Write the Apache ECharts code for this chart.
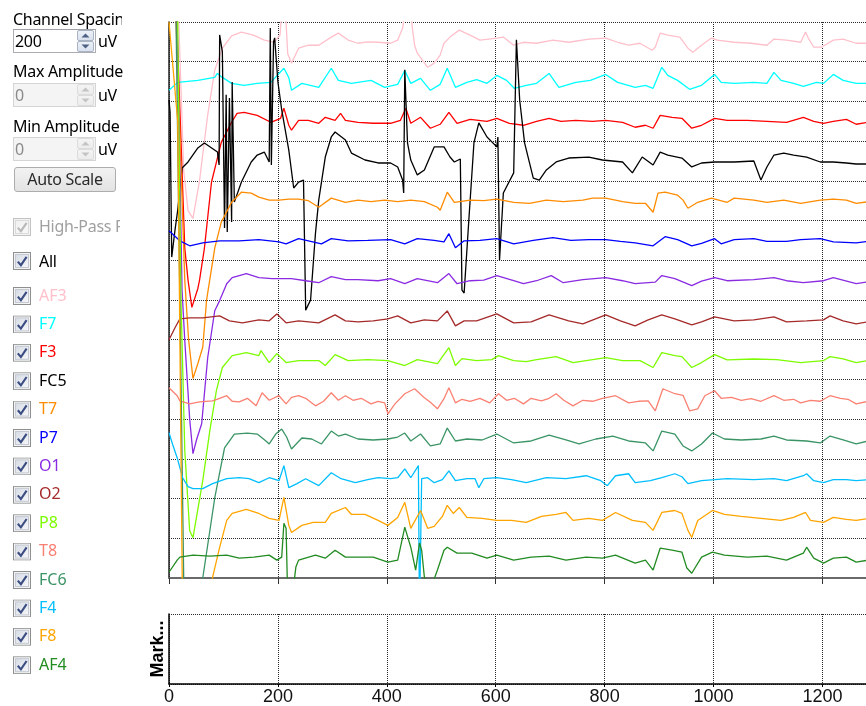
<!DOCTYPE html>
<html>
<head>
<meta charset="utf-8">
<script src="https://cdn.jsdelivr.net/npm/echarts@6/dist/echarts.min.js"></script>
<style>
  html, body { margin:0; padding:0; width:866px; height:706px; overflow:hidden; background:#fff; }
  #chart { position:absolute; left:0; top:0; width:866px; height:706px; }
  .ui { position:absolute; font-family:"Noto Sans", "Open Sans", sans-serif; font-size:16px; letter-spacing:-0.3px; line-height:20px; color:#000; white-space:nowrap; z-index:2; }
  .clip { overflow:hidden; }
  .box { position:absolute; box-sizing:border-box; border:1px solid #abadb3; border-top-color:#9fa2aa; background:#fff; z-index:2; }
  .box.dis { border-color:#d5d5d5; background:#f4f4f4; }
  .btn { position:absolute; box-sizing:border-box; border:1px solid #adadad; border-radius:3px; background:linear-gradient(#f2f2f2,#e3e3e3); z-index:2; }
</style>
</head>
<body>
<div id="chart"></div>
<div id="panel"></div>
<script>
// ---------------- data ----------------
const channels = ['AF3','F7','F3','FC5','T7','P7','O1','O2','P8','T8','FC6','F4','F8','AF4'];
const channelColors = ['#FFC0CB','#00FFFF','#FF0000','#000000','#FF8C00','#0000FF','#8A2BE2','#A52A2A','#7CFC00','#FA8072','#3A9466','#00BFFF','#FFA500','#228B22'];
const channelSpacing = 200;          // uV
const maxAmplitude = 0;              // uV
const minAmplitude = 0;              // uV
const xTicks = [0, 200, 400, 600, 800, 1000, 1200];
const xMax = 1280;

// samples: [time index, uV relative to the channel baseline]
const AF3 = [[0,2000],[16,300],[18,99],[27,-650],[35,-850],[44,-889],[56,-700],[71,-369],[84,-143],[98,-32],[115,30],[133,49],[155,34],[175,9],[193,-2],[204,34],[209,250],[214,150],[218,-60],[225,-107],[238,-32],[256,-17],[275,-17],[298,24],[311,44],[329,9],[347,-7],[365,0],[384,-2],[407,-7],[420,9],[429,69],[436,185],[444,134],[451,-17],[456,-57],[475,-128],[487,-107],[498,-67],[505,-7],[516,24],[533,59],[553,34],[571,9],[602,19],[614,24],[633,-17],[651,-2],[675,-7],[705,9],[734,-2],[771,14],[802,19],[824,-2],[844,-17],[865,-7],[887,-42],[893,-27],[902,44],[916,34],[938,24],[953,-32],[962,-52],[978,-17],[996,19],[1007,9],[1038,-2],[1069,-7],[1098,-17],[1111,14],[1134,9],[1160,-2],[1169,49],[1174,19],[1184,-27],[1198,-27],[1220,9],[1238,14],[1262,-7],[1284,-7]];
const F7 = [[0,-44],[16,-4],[53,6],[84,21],[89,41],[98,21],[115,-9],[138,-19],[162,-9],[187,-4],[202,41],[211,67],[220,20],[225,-44],[244,-9],[275,-29],[298,67],[311,6],[335,-9],[371,6],[396,-29],[420,-14],[433,56],[444,-9],[462,16],[480,-44],[498,-14],[511,67],[526,-29],[547,-4],[565,10],[584,-9],[602,31],[620,6],[634,-34],[656,-19],[675,-9],[698,41],[716,-29],[747,-4],[774,6],[802,36],[824,-4],[856,-29],[875,-19],[889,-34],[905,72],[916,31],[934,6],[956,-39],[978,-19],[1002,36],[1014,-4],[1038,-9],[1074,-4],[1098,-9],[1111,46],[1124,6],[1147,-9],[1165,-24],[1189,-4],[1202,-9],[1220,36],[1238,6],[1262,-9],[1284,-9]];
const F3 = [[0,1500],[13,600],[29,-640],[35,-801],[42,-937],[53,-842],[56,-801],[65,-640],[78,-307],[96,-106],[115,-5],[125,40],[138,45],[162,30],[187,-5],[205,15],[211,66],[220,-20],[225,-45],[238,5],[256,5],[275,-10],[287,20],[305,5],[315,40],[324,5],[347,-5],[375,-10],[407,-10],[425,5],[435,66],[444,-10],[462,20],[480,-35],[498,-15],[514,45],[529,-10],[553,10],[584,0],[602,15],[625,-10],[651,-20],[675,0],[698,15],[720,0],[747,5],[778,0],[802,5],[833,-5],[856,-30],[875,-20],[889,-35],[902,30],[924,20],[942,15],[960,-35],[978,-20],[1002,15],[1025,5],[1062,5],[1098,0],[1134,-5],[1165,20],[1184,0],[1202,-10],[1220,0],[1244,10],[1262,-15],[1284,-5]];
const FC5 = [[0,307],[2,247],[5,-484],[11,-348],[16,-247],[24,-35],[35,-5],[53,66],[65,91],[89,45],[92,-20],[93,635],[98,550],[102,-337],[105,333],[107,-357],[111,317],[115,-307],[116,398],[120,-207],[133,-106],[151,-5],[162,30],[175,45],[184,-5],[186,670],[188,-20],[192,600],[194,620],[200,398],[207,257],[220,55],[229,-136],[238,-106],[247,-96],[251,-751],[260,-700],[269,-363],[275,-197],[287,20],[298,121],[305,146],[324,106],[335,40],[360,5],[384,-10],[407,-10],[420,-30],[429,-96],[431,-161],[433,459],[438,91],[444,5],[456,-70],[469,-45],[487,71],[505,71],[516,20],[524,-5],[535,10],[538,-650],[542,-665],[551,-282],[560,91],[569,192],[584,121],[602,71],[604,121],[607,-499],[614,-161],[633,-60],[638,610],[644,307],[653,91],[669,-86],[680,-96],[693,-45],[711,-5],[734,15],[771,20],[796,5],[833,-5],[851,-60],[869,20],[889,-20],[902,45],[916,30],[942,15],[960,-30],[978,-10],[1002,-5],[1038,-5],[1074,0],[1087,-96],[1098,-30],[1111,30],[1129,40],[1147,30],[1171,20],[1196,-5],[1220,-5],[1244,-10],[1262,-15],[1284,-15]];
const T7 = [[0,2000],[13,900],[29,-401],[36,-700],[44,-895],[53,-820],[62,-738],[69,-501],[84,-239],[96,-108],[115,-8],[133,43],[151,38],[165,18],[184,3],[202,3],[220,8],[238,8],[256,0],[275,-33],[298,13],[324,-8],[347,3],[371,-5],[396,3],[420,-5],[444,3],[469,-5],[493,-33],[498,-48],[511,43],[524,-8],[553,3],[578,0],[602,8],[633,-8],[662,-13],[693,3],[724,-5],[760,3],[778,13],[802,13],[833,-5],[856,-13],[875,-13],[889,-58],[898,38],[911,43],[934,28],[944,3],[953,-38],[971,-8],[996,13],[1025,-8],[1038,13],[1074,3],[1098,-8],[1129,3],[1160,-13],[1196,3],[1220,8],[1244,3],[1262,-13],[1284,-5]];
const P7 = [[0,49],[20,-2],[38,-27],[62,-12],[93,-2],[129,-2],[165,4],[202,-7],[215,-17],[238,9],[280,-17],[298,9],[329,-2],[365,0],[407,4],[433,-17],[456,9],[487,0],[505,-7],[514,34],[526,-37],[542,-2],[571,0],[602,9],[633,-17],[669,0],[705,14],[738,0],[771,4],[802,4],[829,-5],[856,-12],[889,-27],[911,19],[934,4],[960,-27],[978,-15],[1002,9],[1014,-17],[1038,4],[1074,9],[1098,-5],[1134,-5],[1160,4],[1196,9],[1220,-7],[1262,-12],[1284,-5]];
const O1 = [[0,2000],[15,1298],[24,-53],[29,-305],[38,-700],[44,-874],[51,-800],[60,-723],[71,-392],[84,-154],[93,-103],[106,-18],[116,13],[142,33],[165,13],[189,8],[225,8],[251,-3],[275,-13],[298,18],[324,3],[347,3],[384,-3],[407,8],[433,-18],[456,8],[493,-13],[514,33],[529,-18],[553,-3],[578,0],[602,23],[633,-3],[651,-18],[675,-3],[702,23],[724,-13],[760,3],[802,13],[833,-3],[856,-18],[893,-10],[905,23],[929,8],[960,-28],[978,-5],[1002,13],[1025,-3],[1074,3],[1111,13],[1134,-3],[1165,-13],[1202,-3],[1220,13],[1262,-18],[1284,-8]];
const O2 = [[0,-100],[11,-40],[20,5],[38,10],[62,10],[93,20],[111,-5],[135,-15],[165,0],[184,-5],[198,30],[215,-15],[238,-5],[275,-15],[305,25],[324,-5],[347,-10],[375,-5],[402,5],[420,20],[444,-15],[469,0],[493,-5],[511,45],[526,-30],[542,-5],[565,-5],[602,30],[633,-15],[665,-10],[698,25],[734,-5],[760,-20],[802,25],[829,-5],[856,-30],[880,0],[905,25],[929,5],[960,-25],[978,-10],[1002,15],[1038,-5],[1074,0],[1111,15],[1134,-10],[1171,-5],[1202,0],[1214,20],[1238,-5],[1262,-20],[1284,-10]];
const P8 = [[0,2000],[16,1698],[22,297],[29,-459],[38,-862],[44,-897],[51,-786],[62,-610],[75,-358],[87,-156],[98,-40],[116,20],[142,35],[165,20],[169,45],[184,-15],[198,30],[215,-15],[238,-5],[275,-5],[287,-30],[305,25],[329,-5],[365,0],[402,-5],[433,-30],[456,0],[493,-20],[514,60],[526,-30],[538,5],[565,-5],[593,0],[605,20],[633,-5],[656,-10],[675,0],[711,15],[742,-15],[778,0],[802,10],[833,-5],[865,-5],[889,-40],[905,35],[929,20],[942,15],[960,-40],[978,-15],[1002,25],[1025,-2],[1074,3],[1116,0],[1160,-15],[1202,-5],[1214,15],[1238,3],[1262,-15],[1284,-5]];
const T8 = [[0,58],[15,18],[20,-8],[38,-23],[56,-13],[80,-8],[93,5],[106,18],[116,-10],[129,-13],[144,5],[160,-33],[171,33],[184,-5],[202,18],[215,-23],[225,10],[238,18],[251,5],[269,-33],[284,-10],[298,33],[311,-5],[324,18],[338,-5],[353,5],[371,-23],[384,-10],[396,-18],[402,-73],[415,-23],[433,28],[451,53],[469,8],[480,-15],[493,-48],[505,3],[514,58],[526,-18],[538,0],[553,-10],[571,5],[589,-18],[605,28],[620,-5],[634,5],[651,-23],[665,5],[684,-8],[698,5],[711,28],[725,-5],[742,-33],[760,-5],[778,-10],[796,5],[820,18],[844,-18],[862,-10],[880,-8],[893,-58],[907,53],[929,28],[944,20],[956,-58],[971,-48],[984,18],[1002,43],[1014,5],[1033,10],[1051,-5],[1069,3],[1087,-10],[1111,18],[1129,-5],[1147,0],[1160,-18],[1178,-5],[1196,-10],[1214,18],[1233,5],[1247,0],[1262,-23],[1284,-10]];
const FC6 = [[0,2500],[13,2097],[27,-700],[38,-1000],[49,-950],[62,-700],[84,-297],[102,-45],[120,25],[144,30],[162,25],[178,-10],[184,-25],[196,25],[207,50],[216,10],[225,-50],[244,5],[262,0],[280,-25],[298,40],[311,15],[324,25],[347,0],[375,-5],[402,0],[420,10],[433,30],[444,-10],[462,25],[480,-35],[498,-25],[511,55],[526,-10],[547,0],[575,-5],[602,25],[633,-20],[665,-10],[698,20],[729,-5],[753,-25],[784,0],[815,15],[844,-10],[875,-20],[889,-60],[905,40],[929,25],[944,-35],[960,-60],[978,-25],[998,30],[1020,0],[1051,-5],[1087,0],[1111,15],[1134,-5],[1171,-10],[1196,-20],[1214,15],[1238,-5],[1262,-25],[1284,-10]];
const F4 = [[0,232],[7,170],[15,106],[25,5],[35,-40],[44,-50],[62,-50],[80,-25],[106,0],[129,5],[147,0],[165,-20],[184,5],[202,-10],[211,66],[220,-45],[235,-25],[251,0],[275,-35],[298,30],[316,0],[342,-20],[365,-5],[384,5],[407,0],[420,5],[433,50],[444,5],[458,66],[460,-700],[462,-700],[464,0],[475,5],[487,-20],[502,-5],[514,40],[526,-10],[547,0],[562,0],[569,-45],[578,0],[602,5],[629,-5],[656,-20],[693,5],[729,0],[766,15],[793,-10],[805,-35],[820,15],[844,25],[856,-20],[884,-10],[905,5],[929,25],[942,10],[953,-25],[978,-10],[1002,-5],[1025,0],[1074,-5],[1111,0],[1134,-10],[1165,15],[1171,25],[1184,-10],[1202,-20],[1220,-5],[1244,-5],[1262,-10],[1284,-5]];
const F8 = [[0,2500],[16,2000],[25,-500],[47,-1000],[65,-700],[80,-297],[93,-146],[106,-10],[116,25],[142,45],[165,25],[184,0],[202,-10],[211,106],[220,-35],[225,-71],[244,-35],[265,-20],[287,-20],[298,25],[324,55],[335,20],[360,20],[384,-10],[402,-35],[420,5],[433,81],[444,-50],[462,40],[475,-50],[487,-40],[502,10],[511,66],[522,25],[533,55],[547,5],[575,0],[602,-10],[629,-10],[656,-20],[684,10],[711,20],[729,30],[742,-10],[771,0],[796,-10],[820,30],[851,-10],[875,-20],[889,-60],[905,30],[929,40],[942,25],[953,-60],[960,-96],[971,-10],[998,40],[1020,20],[1051,10],[1087,0],[1124,-10],[1147,5],[1169,30],[1178,-10],[1202,-20],[1220,5],[1244,-5],[1262,-10],[1284,0]];
const AF4 = [[0,-71],[15,-10],[20,5],[44,15],[75,10],[106,15],[129,0],[156,5],[184,15],[198,-10],[207,5],[211,176],[215,150],[218,-200],[224,-250],[233,-45],[238,-10],[269,15],[287,0],[305,40],[324,5],[347,5],[375,5],[402,-20],[420,-10],[433,156],[444,55],[453,-60],[460,76],[464,40],[469,-96],[475,-150],[485,-120],[493,-60],[505,40],[511,55],[529,25],[556,25],[584,0],[602,15],[633,-10],[665,5],[698,10],[729,-10],[766,5],[796,0],[820,15],[856,-25],[875,-10],[889,-60],[902,50],[924,40],[942,30],[951,-50],[960,-76],[978,5],[998,30],[1020,15],[1062,5],[1098,10],[1134,-10],[1165,25],[1171,55],[1184,0],[1202,-25],[1220,0],[1244,5],[1262,-20],[1284,-10]];
const channelData = [AF3, F7, F3, FC5, T7, P7, O1, O2, P8, T8, FC6, F4, F8, AF4];

// ---------------- UI pieces ----------------
function checkboxSVG(disabled) {
  const border = disabled ? '#c2c2c2' : '#8e8f8f';
  const g1 = disabled ? '#f1f1f1' : '#d6dbe4';
  const g2 = disabled ? '#f7f7f7' : '#f6f7f9';
  const mark = disabled ? '#b9b9b9' : '#3b4d82';
  return '<svg xmlns="http://www.w3.org/2000/svg" width="18" height="18" viewBox="0 0 18 18">' +
    '<defs><linearGradient id="g" x1="0" y1="0" x2="1" y2="1"><stop offset="0" stop-color="' + g1 + '"/><stop offset="1" stop-color="' + g2 + '"/></linearGradient></defs>' +
    '<rect x="0.5" y="0.5" width="17" height="17" fill="#f3f3f3" stroke="' + border + '"/>' +
    '<rect x="2.5" y="2.5" width="13" height="13" fill="url(#g)" stroke="' + (disabled ? '#dadada' : '#c3c8d2') + '"/>' +
    '<path d="M4.8 9.6 L7.9 13.2 L13.6 4.8" fill="none" stroke="' + mark + '" stroke-width="2.1"/></svg>';
}
function spinnerSVG(disabled) {
  const arrow = disabled ? '#c4c4c4' : '#4d6185';
  const st = disabled ? '#dcdcdc' : '#a9b3c4';
  const f1 = disabled ? '#f4f4f4' : '#eef2f8';
  const f2 = disabled ? '#ececec' : '#d9e1ee';
  return '<svg xmlns="http://www.w3.org/2000/svg" width="18" height="22" viewBox="0 0 18 22">' +
    '<defs><linearGradient id="s" x1="0" y1="0" x2="0" y2="1"><stop offset="0" stop-color="' + f1 + '"/><stop offset="1" stop-color="' + f2 + '"/></linearGradient></defs>' +
    '<rect x="0.5" y="0.5" width="16" height="10" rx="1.5" fill="url(#s)" stroke="' + st + '"/>' +
    '<rect x="0.5" y="11.5" width="16" height="10" rx="1.5" fill="url(#s)" stroke="' + st + '"/>' +
    '<path d="M4.5 7.5 L8.5 3.5 L12.5 7.5 Z" fill="' + arrow + '"/>' +
    '<path d="M4.5 14.5 L8.5 18.5 L12.5 14.5 Z" fill="' + arrow + '"/></svg>';
}
const toURI = s => 'data:image/svg+xml;charset=utf-8,' + encodeURIComponent(s);

const panel = document.getElementById('panel');
function add(html) { panel.insertAdjacentHTML('beforeend', html); }
function label(text, x, y, w, color) {
  add('<div class="ui' + (w ? ' clip' : '') + '" style="left:' + x + 'px;top:' + y + 'px;' + (w ? 'width:' + w + 'px;' : '') + (color ? 'color:' + color + ';' : '') + '">' + text + '</div>');
}
function numBox(y, value, disabled) {
  add('<div class="box' + (disabled ? ' dis' : '') + '" style="left:13px;top:' + y + 'px;width:83px;height:24px;"></div>');
  label(value, 15, y + 2, 0, disabled ? '#8a8a8a' : '#000');
  add('<img style="position:absolute;z-index:3;left:77px;top:' + (y + 1) + 'px" src="' + toURI(spinnerSVG(disabled)) + '">');
  label('uV', 98, y + 2);
}
label('Channel Spacing', 13, 9, 109);
numBox(29, String(channelSpacing), false);
label('Max Amplitude', 13, 61, 111);
numBox(83, String(maxAmplitude), true);
label('Min Amplitude', 13, 116, 111);
numBox(137, String(minAmplitude), true);
add('<div class="btn" style="left:14px;top:167px;width:102px;height:25px;"></div>');
label('Auto Scale', 14, 169, 0, '#2a2a2a');
panel.lastElementChild.style.width = '102px';
panel.lastElementChild.style.textAlign = 'center';
add('<img style="position:absolute;z-index:3;left:13px;top:218px" src="' + toURI(checkboxSVG(true)) + '">');
label('High-Pass Filter', 39, 216, 81, '#a0a0a0');
add('<img style="position:absolute;z-index:3;left:13px;top:252px" src="' + toURI(checkboxSVG(false)) + '">');
label('All', 39, 251);

// ---------------- chart ----------------
const chart = echarts.init(document.getElementById('chart'), null, { renderer: 'canvas' });
const dotted = { show: true, lineStyle: { color: '#2a2a2a', width: 1, type: [1, 1] } };
const nCh = channels.length;

const option = {
  animation: false,
  legend: {
    orient: 'vertical', left: 13, top: 287, padding: 0,
    itemWidth: 18, itemHeight: 18, itemGap: 10.4,
    selectedMode: false,
    icon: 'image://' + toURI(checkboxSVG(false)),
    data: channels.map((n, i) => ({ name: n, textStyle: { color: channelColors[i] } })),
    textStyle: { fontSize: 16, fontFamily: 'Noto Sans', padding: [0, 0, 0, 3] }
  },
  grid: [
    { left: 169, top: 22, width: 706, height: 556 },
    { left: 169, top: 614, width: 706, height: 72 }
  ],
  xAxis: [
    { gridIndex: 0, type: 'value', min: 0, max: xMax, interval: xTicks[1] - xTicks[0],
      axisLine: { show: true, onZero: false, lineStyle: { color: '#6a6a6a', width: 2 } },
      axisTick: { show: true, length: 6, lineStyle: { color: '#333' } },
      axisLabel: { show: false }, splitLine: dotted },
    { gridIndex: 1, type: 'value', min: 0, max: xMax, interval: xTicks[1] - xTicks[0],
      axisLine: { show: true, onZero: false, lineStyle: { color: '#000', width: 1.5 } },
      axisTick: { show: true, length: 3, lineStyle: { color: '#000' } },
      axisLabel: { show: true, showMaxLabel: false, fontSize: 18, color: '#111', fontFamily: 'Liberation Sans', margin: 4,
                   formatter: v => String(v) },
      splitLine: dotted }
  ],
  yAxis: [
    { gridIndex: 0, type: 'value', min: 0, max: nCh * channelSpacing, interval: channelSpacing,
      axisLine: { show: true, lineStyle: { color: '#222', width: 1.5 } },
      axisTick: { show: false }, axisLabel: { show: false }, splitLine: dotted },
    { gridIndex: 0, type: 'value', min: 0, max: nCh * channelSpacing, interval: nCh * channelSpacing / 5,
      axisLine: { show: false }, axisTick: { show: true, length: 6, lineStyle: { color: '#222' } },
      axisLabel: { show: false }, splitLine: { show: false } },
    { gridIndex: 1, type: 'value', min: 0, max: 1, interval: 1,
      name: 'Mark...', nameLocation: 'middle', nameRotate: 90, nameGap: 2,
      nameTextStyle: { fontSize: 18, fontWeight: 'bold', color: '#000', fontFamily: 'Liberation Sans' },
      axisLine: { show: true, lineStyle: { color: '#000', width: 1.5 } },
      axisTick: { show: false }, axisLabel: { show: false }, splitLine: dotted }
  ],
  series: channelData.map((d, i) => ({
    name: channels[i], type: 'line', xAxisIndex: 0, yAxisIndex: 0,
    showSymbol: false, symbol: 'none', silent: true, clip: true,
    color: channelColors[i],
    lineStyle: { width: 1.3, color: channelColors[i] },
    data: d.map(p => [p[0], (nCh - 1 - i) * channelSpacing + channelSpacing / 2 + p[1]])
  }))
};
chart.setOption(option);
</script>
</body>
</html>
